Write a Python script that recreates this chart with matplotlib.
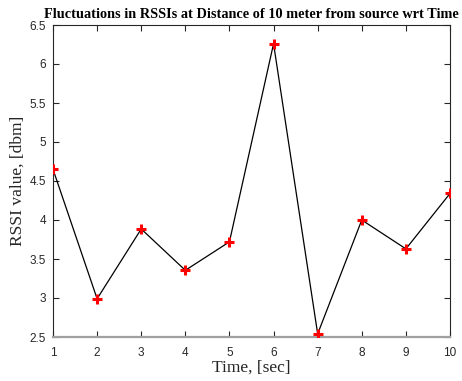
import matplotlib
matplotlib.use("Agg")
import matplotlib.pyplot as plt

# ======================================================
# Data
# ======================================================

time_sec = [1, 2, 3, 4, 5, 6, 7, 8, 9, 10]
rssi_dbm = [4.65, 2.99, 3.885, 3.355, 3.72, 6.26, 2.54, 4.00, 3.63, 4.34]

x_ticks = [1, 2, 3, 4, 5, 6, 7, 8, 9, 10]
y_ticks = [2.5, 3, 3.5, 4, 4.5, 5, 5.5, 6, 6.5]

# ======================================================
# Plot
# ======================================================

fig = plt.figure(figsize=(4.62, 3.81), dpi=100)
ax = fig.add_axes([53 / 462, 1 - 337 / 381, 397 / 462, 312 / 381])

ax.plot(time_sec, rssi_dbm, color="black", linewidth=0.9, zorder=2)
ax.plot(time_sec, rssi_dbm, linestyle="none", marker="+",
        markersize=7, markeredgewidth=2.2, color="red", zorder=3)

ax.set_xlim(1, 10)
ax.set_ylim(2.5, 6.5)
ax.set_xticks(x_ticks)
ax.set_yticks(y_ticks)
ax.set_yticklabels([f"{v:g}" for v in y_ticks])

axis_col = "#262626"
for side in ["top", "right", "left"]:
    ax.spines[side].set_color(axis_col)
    ax.spines[side].set_linewidth(0.8)
ax.spines["bottom"].set_color("#a0a0a0")
ax.spines["bottom"].set_linewidth(1.6)

ax.tick_params(direction="in", length=4, width=0.8, colors=axis_col,
               top=True, right=True, labelsize=8.5, pad=5)
ax.tick_params(axis="x", pad=7)
for lab in ax.get_xticklabels() + ax.get_yticklabels():
    lab.set_family("Liberation Sans")

ax.set_xlabel("Time, [sec]", family="Liberation Serif", fontsize=12.5,
              color=axis_col, labelpad=1)
ax.set_ylabel("RSSI value, [dbm]", family="Liberation Serif", fontsize=12.5,
              color=axis_col, labelpad=3)
ax.set_title("Fluctuations in RSSIs at Distance of 10 meter from source wrt Time",
             family="Liberation Serif", fontweight="bold", fontsize=10.3, pad=5)

fig.savefig("out.png", dpi=100)
